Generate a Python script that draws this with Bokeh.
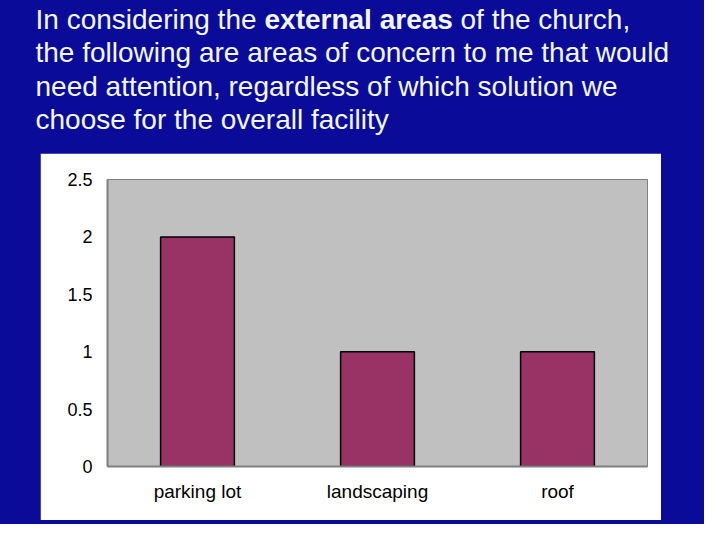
from bokeh.plotting import figure
from bokeh.layouts import column, row
from bokeh.models import Range1d, FactorRange, FixedTicker, Spacer
from bokeh.core.properties import value
from bokeh.embed import file_html
from bokeh.resources import INLINE

# ---- data ----
categories = ["parking lot", "landscaping", "roof"]
counts = [2, 1, 1]
y_ticks = [0, 0.5, 1, 1.5, 2, 2.5]

title_plain_1 = "In considering the"
title_bold_1 = "external areas"
title_tail_1 = "of the church,"
title_lines_rest = [
    "the following are areas of concern to me that would",
    "need attention, regardless of which solution we",
    "choose for the overall facility",
]

BLUE = "#0b0b99"
TXT = "#f2f8ff"
FONT = "Liberation Sans"

# ---- title band ----
title = figure(width=704, height=153, output_backend="svg", toolbar_location=None,
               x_axis_location=None, y_axis_location=None,
               x_range=Range1d(0, 704), y_range=Range1d(153, 0),
               min_border=0, outline_line_color=None,
               background_fill_color=BLUE, border_fill_color=BLUE)
for g in title.grid:
    g.visible = False
common = dict(text_font=value(FONT), text_font_size="28px", text_color=TXT,
              text_baseline="alphabetic", text_align="left")
title.text(x=[35], y=[19], text=[title_plain_1], **common)
title.text(x=[264], y=[19], text=[title_bold_1], text_font_style="bold", **common)
title.text(x=[460], y=[19], text=[title_tail_1], **common)
title.text(x=[35, 35, 35], y=[52, 85.5, 119], text=title_lines_rest, **common)

# ---- chart ----
p = figure(width=621, height=367, output_backend="svg", toolbar_location=None,
           x_range=FactorRange(factors=categories), y_range=Range1d(0, 2.5),
           min_border_left=67, min_border_right=14, min_border_top=26,
           min_border_bottom=54,
           background_fill_color="#c0c0c0", border_fill_color="white",
           outline_line_color="#808080", outline_line_width=1)
p.vbar(x=categories, top=counts, width=0.41, fill_color="#993366",
       line_color="black", line_width=1.5)
p.grid.visible = False

p.yaxis.ticker = FixedTicker(ticks=y_ticks)
p.yaxis.minor_tick_line_color = None
p.yaxis.major_tick_out = 0
p.yaxis.major_tick_in = 0
p.yaxis.axis_line_color = "#808080"
p.yaxis.axis_line_width = 2
p.yaxis.major_label_standoff = 15
p.yaxis.major_label_text_font = FONT
p.yaxis.major_label_text_font_size = "18px"
p.yaxis.major_label_text_color = "black"

p.xaxis.major_tick_out = 0
p.xaxis.major_tick_in = 0
p.xaxis.axis_line_color = "#808080"
p.xaxis.axis_line_width = 2
p.xaxis.major_label_standoff = 14
p.xaxis.major_label_text_font = FONT
p.xaxis.major_label_text_font_size = "19px"
p.xaxis.major_label_text_color = "black"

layout = column(
    title,
    row(Spacer(width=40, height=367), p, Spacer(width=43, height=367), spacing=0),
    Spacer(width=704, height=4),
    spacing=0,
    styles={"background-color": BLUE},
)

open("out.html", "w").write(file_html(layout, INLINE))
